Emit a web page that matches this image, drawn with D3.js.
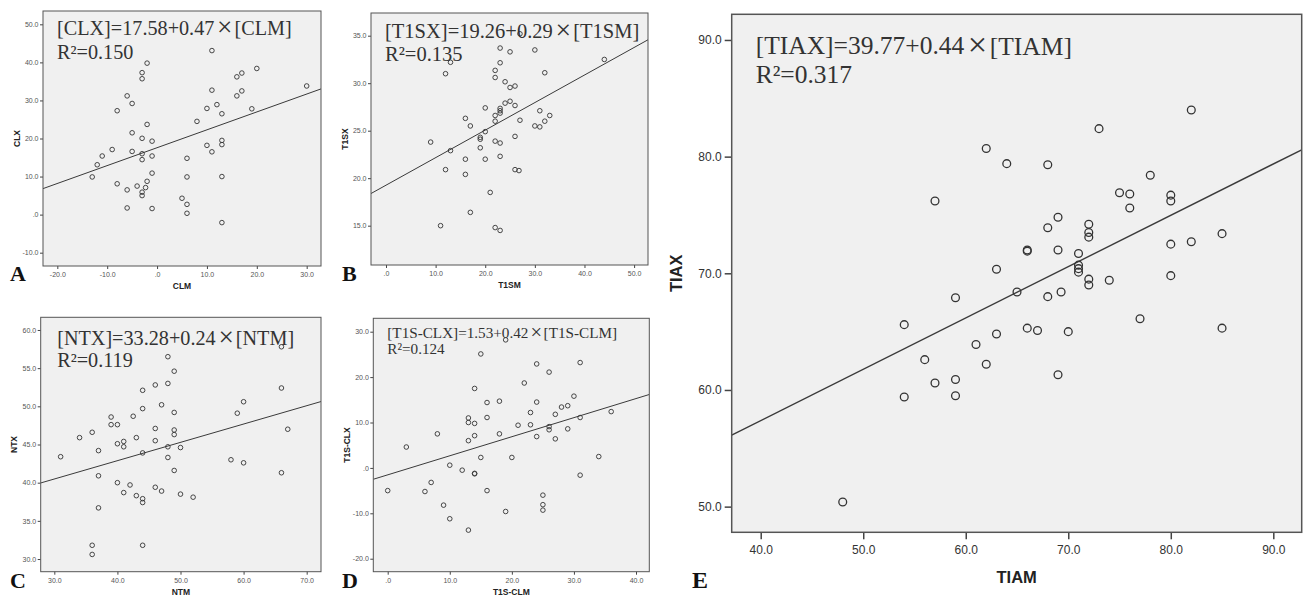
<!DOCTYPE html>
<html>
<head>
<meta charset="utf-8">
<script src="https://cdnjs.cloudflare.com/ajax/libs/d3/7.8.5/d3.min.js"></script>
<style>
  body { margin: 0; background: #fff; }
  svg { display: block; }
</style>
</head>
<body>
<div></div>
<script>
// values

// A: CLM vs CLX
var clm = [-13,-12,-11,-9,-8,-8,-6,-6,-6,-5,-5,-5,-4,-3,-3,-3,-3,-3,-3,-3,-2.3,-2,-2,-2,-1,-1,-1,-1,5,6,6,6,6,8,10,10,11,11,11,12,13,13,13,13,13,16,16,17,17,19,20,30];
var clx = [9.9,13.1,15.4,17.1,27.3,8.1,31.2,6.5,1.75,29.2,21.5,16.6,7.5,37.3,35.7,20.05,16.0,14.45,5.9,5.0,7.1,39.8,23.7,8.75,19.3,15.4,10.9,1.6,4.3,14.8,9.9,2.7,0.35,24.5,27.9,18.2,43.1,32.7,16.5,28.9,26.5,19.5,18.4,10.0,-2.1,36.2,31.2,37.2,32.5,27.8,38.4,33.8];

// B: T1SM vs T1SX
var t1sm = [11,9,12,12,13,13,16,16,16,17,17,19,19,19,20,20,20,21,22,22,22,22,22,22,23,23,23,23,23,23,23,23,24,24,25,25,25,26,26,26,26,26.8,27,27,30,30,31,31,32,32,33,44];
var t1sx = [15.0,23.8,31.0,20.9,32.2,22.9,26.3,22.0,20.4,25.5,16.4,24.3,24.1,23.2,27.4,24.9,22.0,18.5,31.35,30.6,26.6,26.0,23.9,14.8,33.7,32.15,27.35,27.1,26.85,23.7,22.3,14.5,30.15,27.9,33.3,29.55,28.1,29.7,27.65,24.4,20.9,20.8,26.1,35.2,33.5,25.5,27.1,25.4,31.1,26.0,26.6,32.5];

// C: NTM vs NTX
var ntm = [31,34,36,36,36,37,37,37,39,39,40,40,40,41,41,41,42,42.5,43,43,44,44,44,44,44,44,46,46,46,46,47,47,48,48,48,48,49,49,49,49,49,50,50,52,58,59,60,60,66,66,66,67];
var ntx = [43.4,45.9,46.6,31.8,30.6,44.2,40.9,36.7,48.6,47.6,47.6,45.1,40.0,45.4,44.7,38.7,39.7,48.7,45.9,38.3,52.1,49.7,43.9,37.9,37.4,31.8,52.8,47.1,45.5,39.4,50.2,38.9,56.5,53.0,44.7,43.3,54.6,49.2,46.9,46.3,41.6,44.6,38.5,38.1,43.0,49.1,50.6,42.6,57.8,52.4,41.3,47.0];

// D: T1S-CLM vs T1S-CLX
var t1sclm = [0,3,6,7,8,9,10,10,12,13,13,13,13,14,14,14,14,14,15,15,16,16,16,18,18,19,19,20,21,22,23,23,24,24,24,25,25,25,26,26,26,27,27,28,29,29,30,31,31,31,34,36];
var t1sclx = [-5.0,4.6,-5.2,-3.2,7.5,-8.2,0.6,-11.2,-0.5,11.0,10.0,6.0,-13.7,17.5,9.8,7.1,-1.2,-1.3,25.1,2.3,14.4,11.1,-5.0,14.7,7.5,28.2,-9.6,2.3,9.4,18.7,12.2,9.5,22.9,14.5,6.9,-6.0,-8.1,-9.3,21.1,9.1,8.4,11.8,6.4,13.4,8.6,13.7,15.8,23.2,11.1,-1.6,2.5,12.4];

// E: TIAM vs TIAX
var tiam = [48,54,54,56,57,57,59,59,59,61,62,62,63,63,64,65,66,66,66,67,68,68,68,69,69,69,69.3,70,71,71,71,71,72,72,72,72,72,73,74,75,76,76,77,78,80,80,80,80,82,82,85,85];
var tiax = [50.4,65.6,59.4,62.6,76.2,60.6,67.9,60.9,59.5,63.9,80.7,62.2,70.35,64.8,79.4,68.4,72.0,71.9,65.3,65.1,79.3,73.9,68.0,74.8,72.0,61.3,68.4,65.0,71.7,70.7,70.4,70.1,74.2,73.5,73.1,69.5,69.0,82.4,69.4,76.9,76.8,75.6,66.1,78.4,76.7,76.2,72.5,69.8,84.0,72.7,73.4,65.3];

// fit lines (D is drawn lower than its printed intercept)
var intercepts = [17.58, 19.26, 33.28, -1.53, 39.77];
var slopes = [0.47, 0.29, 0.24, 0.42, 0.44];
var eqLeft = ['[CLX]=17.58+0.47', '[T1SX]=19.26+0.29', '[NTX]=33.28+0.24', '[T1S-CLX]=1.53+0.42', '[TIAX]=39.77+0.44'];
var eqRight = ['[CLM]', '[T1SM]', '[NTM]', '[T1S-CLM]', '[TIAM]'];
var r2Labels = ['R²=0.150', 'R²=0.135', 'R²=0.119', 'R²=0.124', 'R²=0.317'];
var xNames = ['CLM', 'T1SM', 'NTM', 'T1S-CLM', 'TIAM'];
var yNames = ['CLX', 'T1SX', 'NTX', 'T1S-CLX', 'TIAX'];
var letters = ['A', 'B', 'C', 'D', 'E'];
var xTickVals = [[-20,-10,0,10,20,30], [0,10,20,30,40,50], [30,40,50,60,70], [0,10,20,30,40], [40,50,60,70,80,90]];
var yTickVals = [[-10,0,10,20,30,40,50], [15,20,25,30,35], [30,35,40,45,50,55,60], [-20,-10,0,10,20,30], [50,60,70,80,90]];

var xsAll = [clm, t1sm, ntm, t1sclm, tiam];
var ysAll = [clx, t1sx, ntx, t1sclx, tiax];

// layout: box = [left, top, right, bottom]
var layout = [
  { box: [43, 11, 321, 266], xDom: [-22.87, 32.87], yDom: [-13.5, 53.5], eq: [14, 24, 48, 20.2], letter: [10, 281] },
  { box: [371, 13, 648, 265], xDom: [-3.02, 52.8], yDom: [10.86, 37.39], eq: [14, 24.5, 48, 20.5], letter: [342, 281] },
  { box: [40.7, 317.3, 321, 571.7], xDom: [27.84, 72.27], yDom: [28.34, 61.66], eq: [16.5, 27.5, 49.5, 20.2], letter: [10, 588] },
  { box: [373.3, 318.3, 649.3, 571.7], xDom: [-2.32, 42.14], yDom: [-22.86, 32.95], eq: [14, 19.5, 36, 15.2], letter: [342, 588] },
  { box: [731.7, 14.3, 1301.7, 532.3], xDom: [37.17, 92.77], yDom: [47.8, 92.2], eq: [24, 40, 69, 25.5], letter: [692, 588], big: true }
];

var small = { tick: 3, pad: 1.5, tickFont: 7, tickFill: '#555', titleFont: 8.5, yTitleDx: -23.5, xTitleDy: 23, r: 2.3, sw: 0.9, lineW: 1, boxW: 1, letterSize: 22 };
var large = { tick: 7, pad: 3, tickFont: 12, tickFill: '#333', titleFont: 16.5, yTitleDx: -50, xTitleDy: 50.7, r: 3.9, sw: 1.3, lineW: 1.4, boxW: 1.5, letterSize: 24 };

function fmt(v) { return v === 0 ? '.0' : v.toFixed(1); }

var svg = d3.select('div').append('svg')
  .attr('width', 1303)
  .attr('height', 598)
  .style('background-color', '#fff');

layout.forEach(function(p, i) {
  var s = p.big ? large : small;
  var b = p.box;
  var x = d3.scaleLinear().domain(p.xDom).range([b[0], b[2]]);
  var y = d3.scaleLinear().domain(p.yDom).range([b[3], b[1]]);
  var g = svg.append('g');

  g.append('clipPath').attr('id', 'clip' + i)
    .append('rect')
    .attr('x', b[0]).attr('y', b[1])
    .attr('width', b[2] - b[0]).attr('height', b[3] - b[1]);

  g.append('rect')
    .attr('x', b[0]).attr('y', b[1])
    .attr('width', b[2] - b[0]).attr('height', b[3] - b[1])
    .style('fill', '#f0f0f0');

  var xAxis = d3.axisBottom(x).tickValues(xTickVals[i]).tickFormat(fmt)
    .tickSize(s.tick).tickPadding(p.big ? 6 : 3);
  var yAxis = d3.axisLeft(y).tickValues(yTickVals[i]).tickFormat(fmt)
    .tickSize(s.tick).tickPadding(s.pad);

  [g.append('g').attr('transform', 'translate(0,' + b[3] + ')').call(xAxis),
   g.append('g').attr('transform', 'translate(' + b[0] + ',0)').call(yAxis)]
    .forEach(function(a) {
      a.select('.domain').remove();
      a.selectAll('line').attr('stroke', '#444').attr('stroke-width', s.boxW);
      a.selectAll('text')
        .attr('fill', s.tickFill)
        .style('font-family', '"Liberation Sans", Arial, sans-serif')
        .style('font-size', s.tickFont + 'px');
    });

  var plot = g.append('g').attr('clip-path', 'url(#clip' + i + ')');

  plot.append('line')
    .attr('x1', x(p.xDom[0])).attr('y1', y(intercepts[i] + slopes[i] * p.xDom[0]))
    .attr('x2', x(p.xDom[1])).attr('y2', y(intercepts[i] + slopes[i] * p.xDom[1]))
    .style('stroke', '#3a3a3a')
    .style('stroke-width', s.lineW);

  var pts = xsAll[i].map(function(v, j) { return { x: v, y: ysAll[i][j] }; });
  plot.selectAll('circle')
    .data(pts)
    .enter()
    .append('circle')
    .attr('cx', d => x(d.x))
    .attr('cy', d => y(d.y))
    .attr('r', s.r)
    .style('fill', 'none')
    .style('stroke', '#333')
    .style('stroke-width', s.sw);

  // border on top
  g.append('rect')
    .attr('x', b[0]).attr('y', b[1])
    .attr('width', b[2] - b[0]).attr('height', b[3] - b[1])
    .style('fill', 'none')
    .style('stroke', '#555')
    .style('stroke-width', s.boxW);

  // equation + R²
  var eq = g.append('text')
    .attr('x', b[0] + p.eq[0])
    .attr('y', b[1] + p.eq[1])
    .style('font-family', '"Liberation Serif", "Times New Roman", serif')
    .style('font-size', p.eq[3] + 'px')
    .style('fill', '#333');
  eq.append('tspan').text(eqLeft[i]);
  eq.append('tspan').attr('dx', '0.1em').style('font-size', '135%').attr('dy', '0.04em').text('×');
  eq.append('tspan').attr('dx', '0.1em').attr('dy', '-0.04em').text(eqRight[i]);

  g.append('text')
    .attr('x', b[0] + p.eq[0])
    .attr('y', b[1] + p.eq[2])
    .style('font-family', '"Liberation Serif", "Times New Roman", serif')
    .style('font-size', p.eq[3] + 'px')
    .style('fill', '#333')
    .text(r2Labels[i]);

  // axis titles
  g.append('text')
    .attr('x', (b[0] + b[2]) / 2)
    .attr('y', b[3] + s.xTitleDy)
    .attr('text-anchor', 'middle')
    .style('font-family', '"Liberation Sans", Arial, sans-serif')
    .style('font-weight', 'bold')
    .style('font-size', s.titleFont + 'px')
    .style('fill', '#222')
    .text(xNames[i]);

  g.append('text')
    .attr('transform', 'translate(' + (b[0] + s.yTitleDx) + ',' + ((b[1] + b[3]) / 2) + ') rotate(-90)')
    .attr('text-anchor', 'middle')
    .style('font-family', '"Liberation Sans", Arial, sans-serif')
    .style('font-weight', 'bold')
    .style('font-size', s.titleFont + 'px')
    .style('fill', '#222')
    .text(yNames[i]);

  // panel letter
  g.append('text')
    .attr('x', p.letter[0])
    .attr('y', p.letter[1])
    .style('font-family', '"Liberation Serif", "Times New Roman", serif')
    .style('font-weight', 'bold')
    .style('font-size', s.letterSize + 'px')
    .style('fill', '#111')
    .text(letters[i]);
});
</script>
</body>
</html>
